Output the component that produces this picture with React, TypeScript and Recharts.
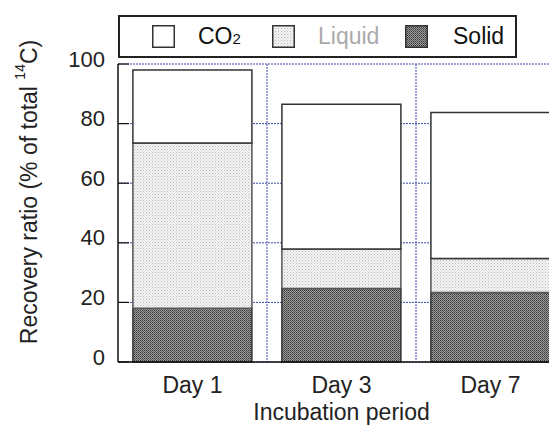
import { BarChart, Bar, XAxis, YAxis, CartesianGrid, Legend } from 'recharts';

const days = ['Day 1', 'Day 3', 'Day 7'];
const solid = [18.0, 24.7, 23.3];
const liquid = [55.5, 13.2, 11.4];
const co2 = [24.5, 48.6, 49.0];
const yTicks = [0, 20, 40, 60, 80, 100];

const data = days.map((day, i) => ({
  day,
  solid: solid[i],
  liquid: liquid[i],
  co2: co2[i],
}));

const FONT = '"Liberation Sans", Arial, sans-serif';

function YLabel() {
  return (
    <text
      x={21}
      y={184}
      transform="rotate(-90 21 184)"
      textAnchor="middle"
      dominantBaseline="central"
      fontSize={23}
      fontFamily={FONT}
      fill="#222"
    >
      Recovery ratio (% of total <tspan dy={-9} fontSize={14}>14</tspan>
      <tspan dy={9}>C)</tspan>
    </text>
  );
}

function YTick(props: any) {
  const { x, y, payload } = props;
  return (
    <text x={x} y={y - 5} textAnchor="end" dominantBaseline="central" fontSize={22} fontFamily={FONT} fill="#222">
      {payload.value}
    </text>
  );
}

const swatches: Record<string, string> = {
  co2: '#fff',
  liquid: 'url(#liquidPat)',
  solid: 'url(#solidPat)',
};

function LegendBox() {
  const items = [
    { key: 'co2', label: <span>CO<span style={{ fontSize: 15 }}>2</span></span>, color: '#111', sw: 32, tx: 78 },
    { key: 'liquid', label: 'Liquid', color: '#aaa', sw: 152, tx: 198 },
    { key: 'solid', label: 'Solid', color: '#111', sw: 285, tx: 333 },
  ];
  return (
    <div style={{ position: 'relative', width: 395, height: 39, border: '2px solid #222', fontFamily: FONT, fontSize: 23 }}>
      {items.map((it) => (
        <div key={it.key}>
          <svg style={{ position: 'absolute', left: it.sw, top: 8, width: 23, height: 23 }}>
            <rect x={0.75} y={0.75} width={21.5} height={21.5} fill={swatches[it.key]} stroke="#333" strokeWidth={1.5} />
          </svg>
          <div style={{ position: 'absolute', left: it.tx, top: 5, color: it.color, lineHeight: '28px' }}>{it.label}</div>
        </div>
      ))}
    </div>
  );
}

export default function App() {
  return (
    <div style={{ width: 549, height: 425, overflow: 'hidden', position: 'relative' }}>
      <BarChart
        width={600}
        height={425}
        data={data}
        margin={{ top: 56, right: 43, left: 0, bottom: 0 }}
        barCategoryGap="10%"
      >
        <defs>
          <pattern id="liquidPat" width={3} height={3} patternUnits="userSpaceOnUse">
            <rect width={3} height={3} fill="#f4f4f4" />
            <rect x={0} y={0} width={1} height={1} fill="#b8b8b8" />
            <rect x={1.5} y={1.5} width={1} height={1} fill="#cfcfcf" />
          </pattern>
          <pattern id="solidPat" width={2} height={2} patternUnits="userSpaceOnUse">
            <rect width={2} height={2} fill="#9a9a9a" />
            <rect x={0} y={0} width={1} height={1} fill="#3a3a3a" />
            <rect x={1} y={1} width={1} height={1} fill="#5a5a5a" />
          </pattern>
        </defs>
        <CartesianGrid
          stroke="#3a4aa8"
          strokeDasharray="2 1"
          strokeWidth={1}
          verticalCoordinatesGenerator={(props: any) => {
            const o = props.offset;
            return [o.left + o.width / 3, o.left + (2 * o.width) / 3];
          }}
        />
        <XAxis
          dataKey="day"
          height={71}
          tickLine={false}
          axisLine={{ stroke: '#111', strokeWidth: 1.5 }}
          tick={{ fontSize: 23, fontFamily: FONT, fill: '#222' }}
          tickMargin={9}
          label={{ value: 'Incubation period', position: 'insideBottom', offset: 13, fontSize: 23, fontFamily: FONT, fill: '#222' }}
        />
        <YAxis
          width={110}
          domain={[0, 100]}
          ticks={yTicks}
          interval={0}
          tickSize={-11}
          tickMargin={24}
          tickLine={{ stroke: '#111', strokeWidth: 1.2 }}
          axisLine={{ stroke: '#111', strokeWidth: 1.5 }}
          tick={<YTick />}
          label={<YLabel />}
        />
        <Legend
          layout="vertical"
          verticalAlign="middle"
          align="center"
          content={<LegendBox />}
          wrapperStyle={{ position: 'absolute', top: 7, left: 110, width: 399, height: 43 }}
        />
        <Bar dataKey="solid" stackId="a" fill="url(#solidPat)" stroke="#333" strokeWidth={1.5} isAnimationActive={false} />
        <Bar dataKey="liquid" stackId="a" fill="url(#liquidPat)" stroke="#555" strokeWidth={1.5} isAnimationActive={false} />
        <Bar dataKey="co2" stackId="a" fill="#fff" stroke="#333" strokeWidth={1.5} isAnimationActive={false} />
      </BarChart>
    </div>
  );
}
